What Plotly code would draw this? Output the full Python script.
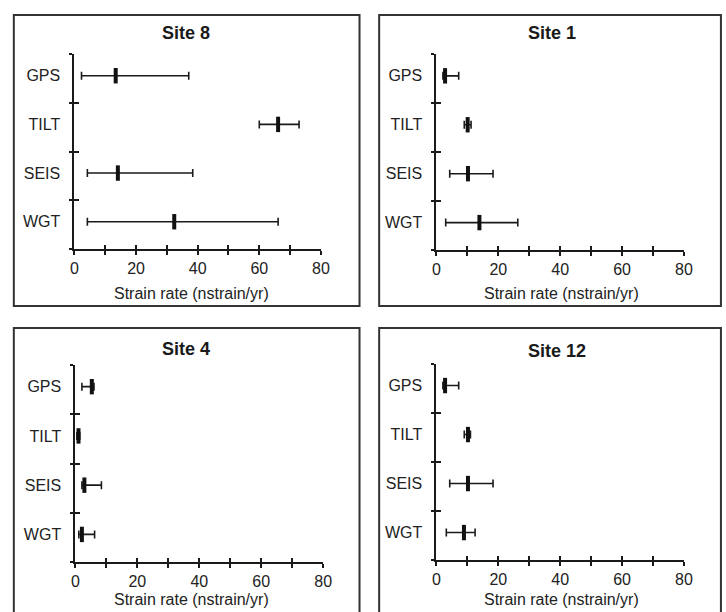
import plotly.graph_objects as go

# ---- data ----
methods = ["GPS", "TILT", "SEIS", "WGT"]
site_names = ["Site 8", "Site 1", "Site 4", "Site 12"]

site8_low = [2.3, 60.0, 4.2, 4.2]
site8_mid = [13.4, 66.1, 14.1, 32.4]
site8_high = [37.1, 72.9, 38.4, 66.1]

site1_low = [2.1, 9.0, 4.3, 3.0]
site1_mid = [2.8, 10.1, 10.2, 13.9]
site1_high = [7.2, 11.2, 18.3, 26.3]

site4_low = [2.1, 0.5, 2.1, 1.1]
site4_mid = [5.3, 1.0, 2.9, 2.1]
site4_high = [6.0, 1.4, 8.4, 6.2]

site12_low = [2.1, 9.0, 4.3, 3.2]
site12_mid = [2.8, 10.2, 10.2, 8.9]
site12_high = [7.2, 11.0, 18.3, 12.5]

x_ticks = [0, 10, 20, 30, 40, 50, 60, 70, 80]
x_ticktext = ["0", "", "20", "", "40", "", "60", "", "80"]
x_title = "Strain rate (nstrain/yr)"

sites = [
    (site8_low, site8_mid, site8_high),
    (site1_low, site1_mid, site1_high),
    (site4_low, site4_mid, site4_high),
    (site12_low, site12_mid, site12_high),
]

# ---- layout geometry (pixels in a 726x612 canvas) ----
W, H = 726, 612
FONT = "Liberation Sans, Arial, sans-serif"
INK = "#1a1a1a"
TXT = "#222222"

# plot-area rectangles: (x_left, x_right, y_top, y_bottom)
areas = [
    (71.7, 322.7, 54.3, 249.0),
    (440.3, 692.3, 54.3, 250.0),
    (72.7, 325.0, 365.0, 562.0),
    (440.3, 692.3, 364.0, 560.0),
]
# panel boxes: (x0, x1, y_top, y_bottom)
boxes = [
    (10, 362, 15, 306),
    (382, 730, 15, 306),
    (10, 362, 328, 620),
    (382, 730, 328, 620),
]
title_pos = [(185, 33), (558, 33), (185, 349), (563, 351)]
xtitle_pos = [(191, 293), (568, 293), (191, 599), (568, 599)]

n = len(methods)
ypos = [n - i - 0.44 for i in range(n)]

fig = go.Figure()
layout = dict(
    width=W, height=H,
    margin=dict(l=0, r=0, t=0, b=0),
    paper_bgcolor="white", plot_bgcolor="white",
    showlegend=False,
    font=dict(family=FONT, color=TXT, size=16),
    shapes=[], annotations=[],
)

for k, (lo, mid, hi) in enumerate(sites):
    xi = k + 1
    xo = k + 5
    xs = "" if xi == 1 else str(xi)
    xa, ya = "x" + xs, "y" + xs
    xl, xr, yt, yb = areas[k]
    xdom = [xl / W, xr / W]
    ydom = [1 - yb / H, 1 - yt / H]

    fig.add_trace(go.Scatter(
        x=mid, y=ypos, xaxis=xa, yaxis=ya, mode="markers",
        marker=dict(symbol="line-ns", size=11, color="#111",
                    line=dict(width=4, color="#111")),
        error_x=dict(type="data", symmetric=False,
                     array=[h - m for h, m in zip(hi, mid)],
                     arrayminus=[m - l for m, l in zip(mid, lo)],
                     thickness=1.6, width=4, color=INK),
        cliponaxis=False, hoverinfo="skip",
    ))
    # empty traces to create the overlay axes (used for crossing ticks)
    fig.add_trace(go.Scatter(x=[], y=[], xaxis="x" + str(xo), yaxis=ya, hoverinfo="skip"))
    fig.add_trace(go.Scatter(x=[], y=[], xaxis=xa, yaxis="y" + str(xo), hoverinfo="skip"))

    layout["xaxis" + xs] = dict(
        domain=xdom, anchor=ya, range=[0, 80], fixedrange=True,
        tickmode="array", tickvals=x_ticks, ticktext=x_ticktext,
        ticks="outside", ticklen=4, tickwidth=1.6, tickcolor=INK,
        showline=True, linewidth=2, linecolor=INK,
        showgrid=False, zeroline=False,
        tickfont=dict(size=16, family=FONT, color=TXT),
        ticklabelstandoff=0,
    )
    layout["xaxis" + str(xo)] = dict(
        overlaying=xa, anchor=ya, side="bottom", range=[0, 80],
        tickmode="array", tickvals=x_ticks,
        ticks="inside", ticklen=4, tickwidth=1.6, tickcolor=INK,
        showticklabels=False, showline=False, showgrid=False, zeroline=False,
        fixedrange=True,
    )
    layout["yaxis" + xs] = dict(
        domain=ydom, anchor=xa, range=[0, n], fixedrange=True,
        tickmode="array", tickvals=ypos, ticktext=methods,
        ticks="outside", ticklen=0, tickcolor=INK,
        minor=dict(tickmode="array", tickvals=list(range(n + 1)),
                   ticks="outside", ticklen=3, tickwidth=1.6, tickcolor=INK),
        showline=True, linewidth=2, linecolor=INK,
        showgrid=False, zeroline=False,
        tickfont=dict(size=16, family=FONT, color=TXT),
        ticklabelstandoff=9,
    )
    layout["yaxis" + str(xo)] = dict(
        overlaying=ya, anchor=xa, side="left", range=[0, n],
        tickmode="array", tickvals=list(range(n + 1)),
        ticks="inside", ticklen=5, tickwidth=1.6, tickcolor=INK,
        showticklabels=False, showline=False, showgrid=False, zeroline=False,
        fixedrange=True,
    )

    bx0, bx1, byt, byb = boxes[k]
    layout["shapes"].append(dict(
        type="rect", xref="paper", yref="paper",
        x0=bx0 / W, x1=bx1 / W, y0=1 - byb / H, y1=1 - byt / H,
        line=dict(color="#333", width=2), fillcolor="rgba(0,0,0,0)", layer="below",
    ))
    tx, ty = title_pos[k]
    layout["annotations"].append(dict(
        text="<b>" + site_names[k] + "</b>", xref="paper", yref="paper",
        x=tx / W, y=1 - ty / H, xanchor="center", yanchor="middle",
        showarrow=False, font=dict(size=18, family=FONT, color=INK),
    ))
    ax, ay = xtitle_pos[k]
    layout["annotations"].append(dict(
        text=x_title, xref="paper", yref="paper",
        x=ax / W, y=1 - ay / H, xanchor="center", yanchor="middle",
        showarrow=False, font=dict(size=16, family=FONT, color=TXT),
    ))

fig.update_layout(**layout)
fig.write_html(
    "out.html",
    config={"displayModeBar": False},
    post_script="document.body.style.margin='0';document.body.style.overflow='hidden';",
)
